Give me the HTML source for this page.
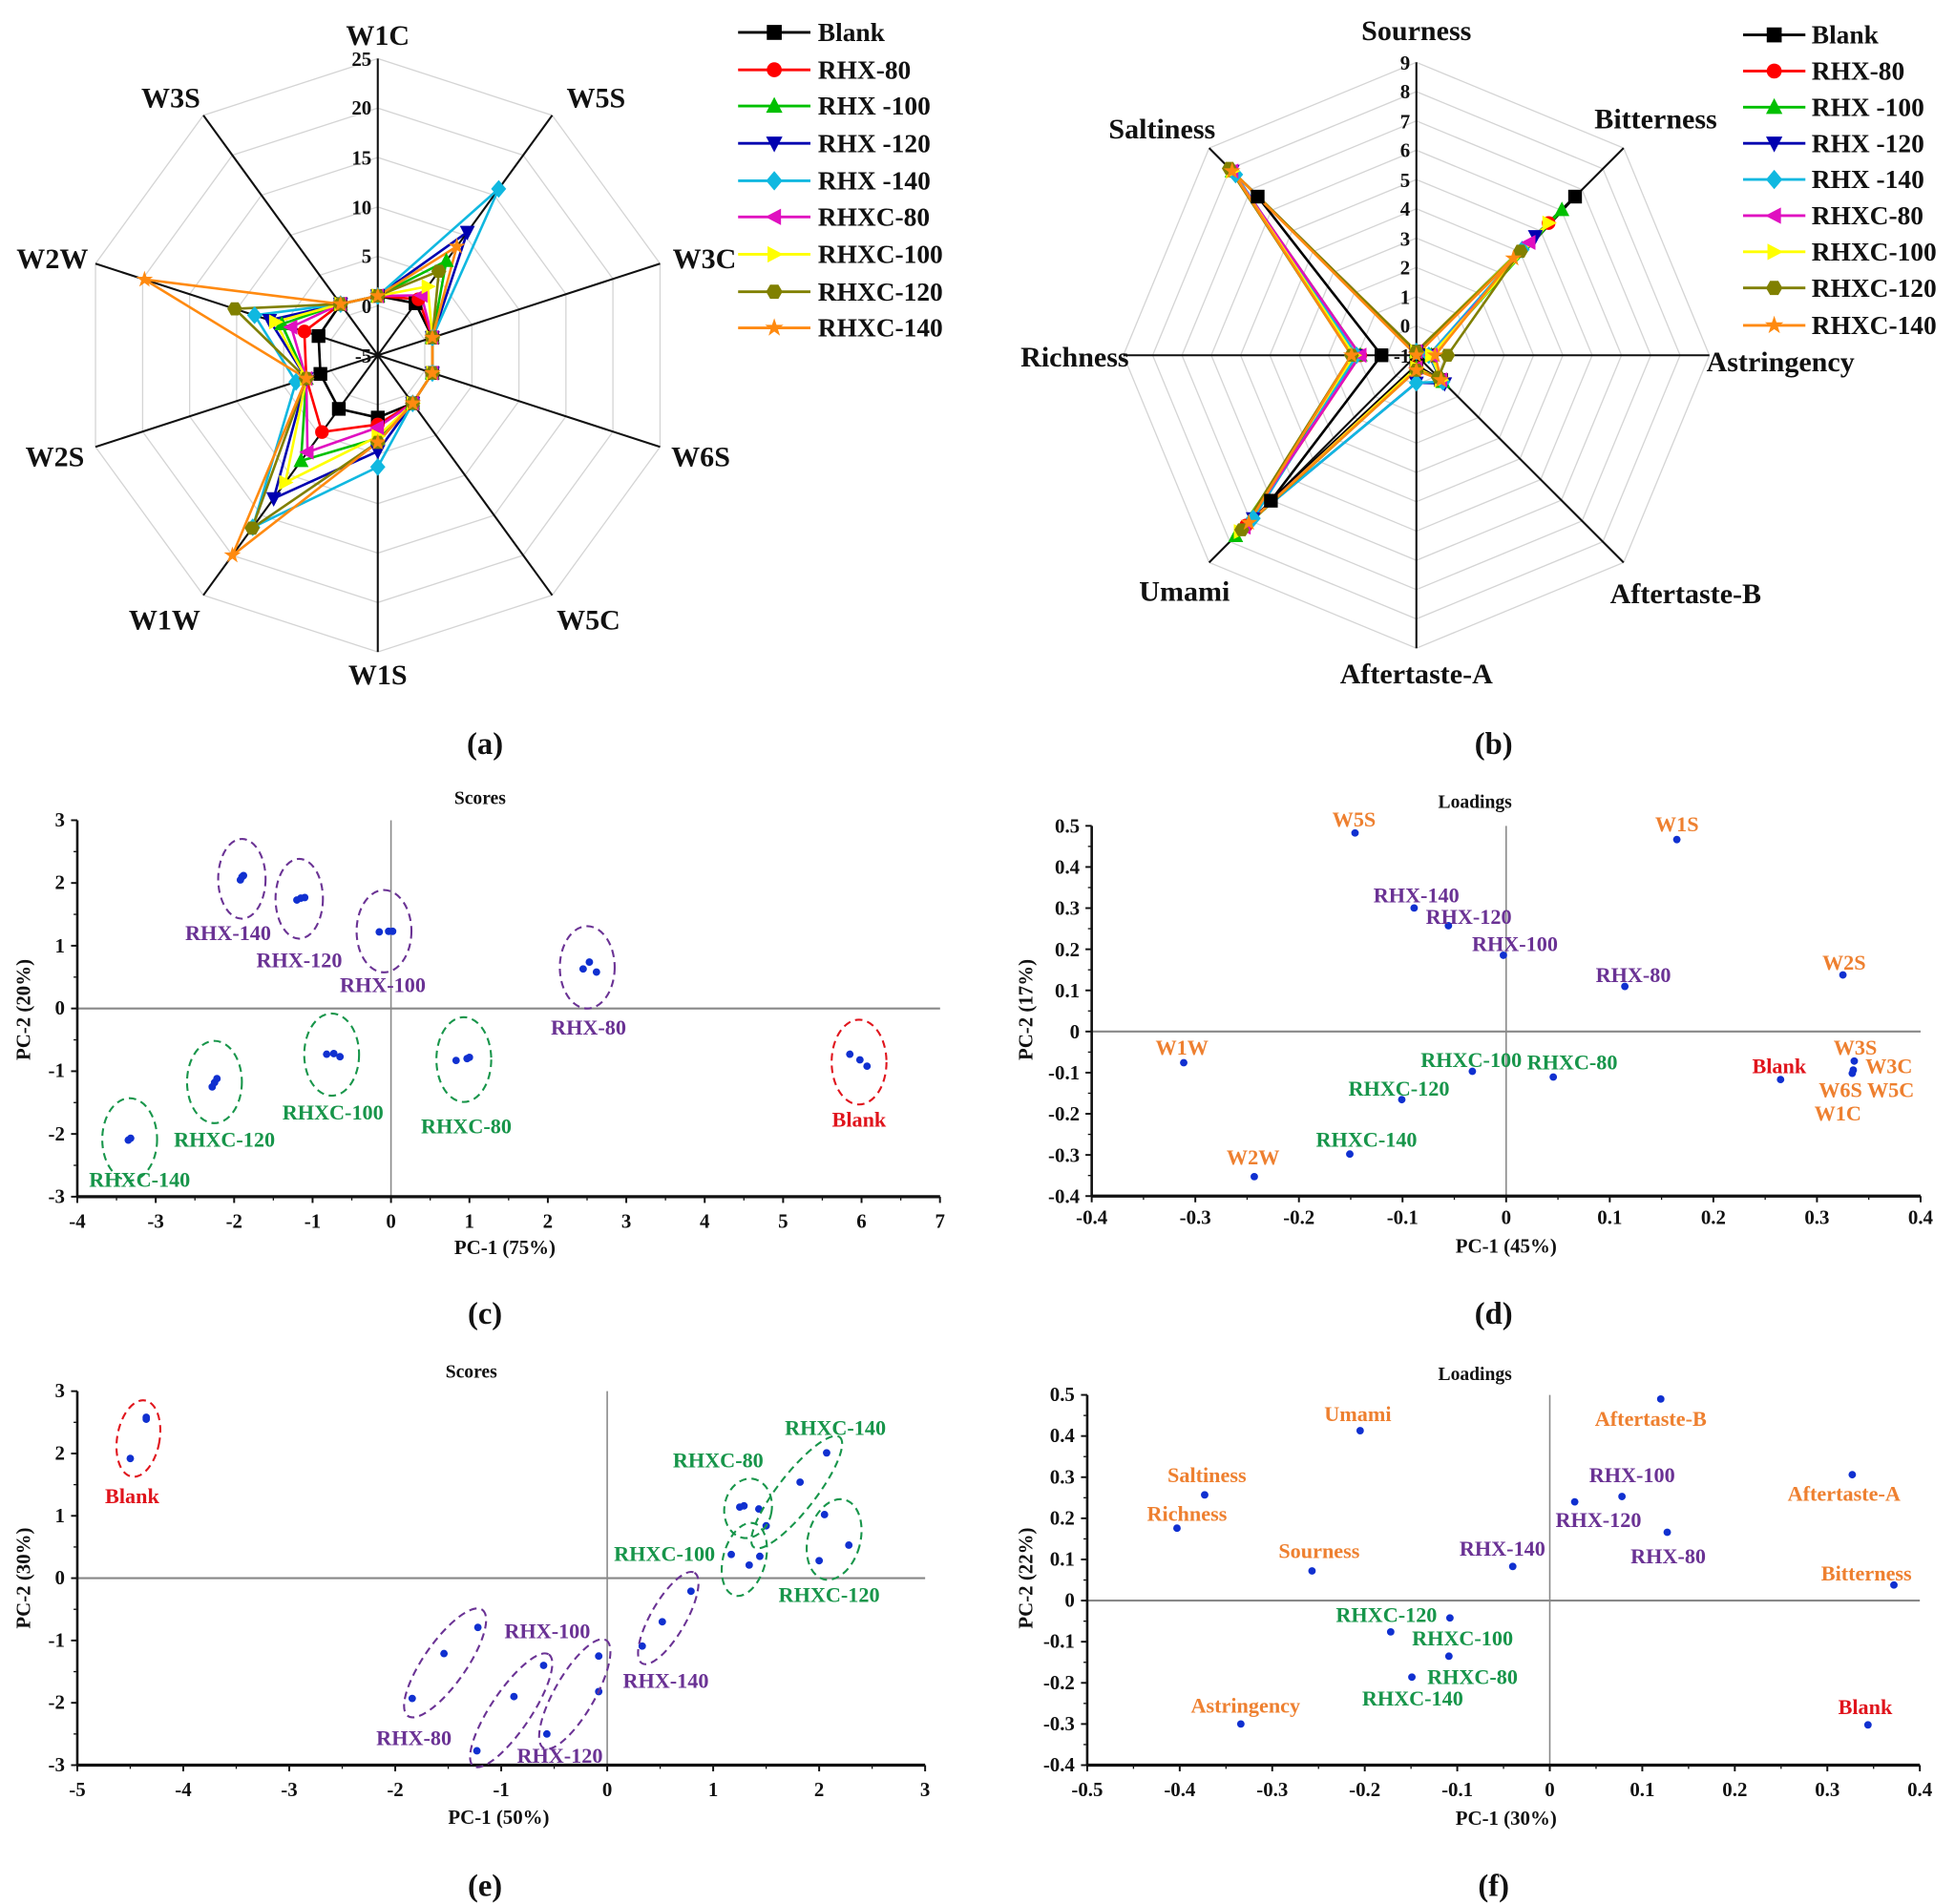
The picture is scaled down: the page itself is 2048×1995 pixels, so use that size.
<!DOCTYPE html>
<html><head><meta charset="utf-8"><style>
html,body{margin:0;padding:0;background:#fff}
svg{display:block}
text{font-family:"Liberation Serif",serif;font-weight:bold}
.ax{font-size:23px;fill:#111}
.lg{font-size:21px;fill:#111}
.tk{font-size:16px;fill:#111}
.pl{font-size:25px;fill:#111}
.tt{font-size:15px;fill:#111}
.at{font-size:16px;fill:#111}
.pu{font-size:17px;fill:#6a3294}
.gr{font-size:17px;fill:#17954a}
.or{font-size:17px;fill:#ee8030}
.rd{font-size:17px;fill:#e0141c}
</style></head><body>
<svg id="s" xmlns="http://www.w3.org/2000/svg" width="2048" height="1995" viewBox="0 0 1568 1527.4" preserveAspectRatio="none">
<g id="geo"></g>
<!-- Radar a labels -->
<text class="ax" x="303" y="36" text-anchor="middle">W1C</text>
<text class="ax" x="478" y="86" text-anchor="middle">W5S</text>
<text class="ax" x="565" y="215" text-anchor="middle">W3C</text>
<text class="ax" x="562" y="374" text-anchor="middle">W6S</text>
<text class="ax" x="472" y="505" text-anchor="middle">W5C</text>
<text class="ax" x="303" y="549" text-anchor="middle">W1S</text>
<text class="ax" x="132" y="505" text-anchor="middle">W1W</text>
<text class="ax" x="44" y="374" text-anchor="middle">W2S</text>
<text class="ax" x="42" y="215" text-anchor="middle">W2W</text>
<text class="ax" x="137" y="86" text-anchor="middle">W3S</text>
<g class="tk" text-anchor="end">
<text x="298" y="53">25</text><text x="298" y="92">20</text><text x="298" y="132">15</text><text x="298" y="172">10</text><text x="298" y="211">5</text><text x="298" y="251">0</text><text x="298" y="291">-5</text>
</g>
<g class="lg">
<text x="656" y="33">Blank</text><text x="656" y="63">RHX-80</text><text x="656" y="92">RHX -100</text><text x="656" y="122">RHX -120</text><text x="656" y="152">RHX -140</text><text x="656" y="181">RHXC-80</text><text x="656" y="211">RHXC-100</text><text x="656" y="241">RHXC-120</text><text x="656" y="270">RHXC-140</text>
</g>
<!-- Radar b labels -->
<text class="ax" x="1136" y="32" text-anchor="middle">Sourness</text>
<text class="ax" x="1328" y="103" text-anchor="middle">Bitterness</text>
<text class="ax" x="1428" y="298" text-anchor="middle">Astringency</text>
<text class="ax" x="1352" y="484" text-anchor="middle">Aftertaste-B</text>
<text class="ax" x="1136" y="548" text-anchor="middle">Aftertaste-A</text>
<text class="ax" x="950" y="482" text-anchor="middle">Umami</text>
<text class="ax" x="862" y="294" text-anchor="middle">Richness</text>
<text class="ax" x="932" y="111" text-anchor="middle">Saltiness</text>
<g class="tk" text-anchor="end">
<text x="1131" y="56">9</text><text x="1131" y="79">8</text><text x="1131" y="103">7</text><text x="1131" y="126">6</text><text x="1131" y="150">5</text><text x="1131" y="173">4</text><text x="1131" y="197">3</text><text x="1131" y="220">2</text><text x="1131" y="244">1</text><text x="1131" y="267">0</text><text x="1131" y="291">-1</text>
</g>
<g class="lg">
<text x="1453" y="35">Blank</text><text x="1453" y="64">RHX-80</text><text x="1453" y="93">RHX -100</text><text x="1453" y="122">RHX -120</text><text x="1453" y="151">RHX -140</text><text x="1453" y="180">RHXC-80</text><text x="1453" y="209">RHXC-100</text><text x="1453" y="238">RHXC-120</text><text x="1453" y="268">RHXC-140</text>
</g>
<text class="pl" x="389" y="605" text-anchor="middle">(a)</text>
<text class="pl" x="1198" y="605" text-anchor="middle">(b)</text>
<text class="pl" x="389" y="1062" text-anchor="middle">(c)</text>
<text class="pl" x="1198" y="1062" text-anchor="middle">(d)</text>
<text class="pl" x="389" y="1521" text-anchor="middle">(e)</text>
<text class="pl" x="1198" y="1521" text-anchor="middle">(f)</text>

<!-- (c) -->
<text class="tt" x="385" y="645" text-anchor="middle">Scores</text>
<text class="at" x="405" y="1006" text-anchor="middle">PC-1 (75%)</text>
<text class="at" transform="translate(24,810) rotate(-90)" text-anchor="middle">PC-2 (20%)</text>
<g class="tk" text-anchor="middle">
<text x="62" y="985">-4</text><text x="124.9" y="985">-3</text><text x="187.8" y="985">-2</text><text x="250.7" y="985">-1</text><text x="313.6" y="985">0</text><text x="376.5" y="985">1</text><text x="439.4" y="985">2</text><text x="502.3" y="985">3</text><text x="565.2" y="985">4</text><text x="628.1" y="985">5</text><text x="691" y="985">6</text><text x="753.9" y="985">7</text>
</g>
<g class="tk" text-anchor="end">
<text x="52" y="663">3</text><text x="52" y="713">2</text><text x="52" y="764">1</text><text x="52" y="814">0</text><text x="52" y="864">-1</text><text x="52" y="915">-2</text><text x="52" y="965">-3</text>
</g>
<text class="pu" x="183" y="754" text-anchor="middle">RHX-140</text>
<text class="pu" x="240" y="776" text-anchor="middle">RHX-120</text>
<text class="pu" x="307" y="796" text-anchor="middle">RHX-100</text>
<text class="pu" x="472" y="830" text-anchor="middle">RHX-80</text>
<text class="gr" x="267" y="898" text-anchor="middle">RHXC-100</text>
<text class="gr" x="180" y="920" text-anchor="middle">RHXC-120</text>
<text class="gr" x="112" y="952" text-anchor="middle">RHXC-140</text>
<text class="gr" x="374" y="909" text-anchor="middle">RHXC-80</text>
<text class="rd" x="689" y="904" text-anchor="middle">Blank</text>

<!-- (d) -->
<text class="tt" x="1183" y="648" text-anchor="middle">Loadings</text>
<text class="at" x="1208" y="1005" text-anchor="middle">PC-1 (45%)</text>
<text class="at" transform="translate(828,810) rotate(-90)" text-anchor="middle">PC-2 (17%)</text>
<g class="tk" text-anchor="middle">
<text x="875.6" y="982">-0.4</text><text x="958.7" y="982">-0.3</text><text x="1041.8" y="982">-0.2</text><text x="1124.9" y="982">-0.1</text><text x="1208" y="982">0</text><text x="1291.1" y="982">0.1</text><text x="1374.2" y="982">0.2</text><text x="1457.3" y="982">0.3</text><text x="1540.4" y="982">0.4</text>
</g>
<g class="tk" text-anchor="end">
<text x="866" y="668">0.5</text><text x="866" y="701">0.4</text><text x="866" y="734">0.3</text><text x="866" y="767">0.2</text><text x="866" y="800">0.1</text><text x="866" y="833">0</text><text x="866" y="866">-0.1</text><text x="866" y="899">-0.2</text><text x="866" y="932">-0.3</text><text x="866" y="965">-0.4</text>
</g>
<text class="or" x="1086" y="663" text-anchor="middle">W5S</text>
<text class="or" x="1345" y="667" text-anchor="middle">W1S</text>
<text class="pu" x="1136" y="724" text-anchor="middle">RHX-140</text>
<text class="pu" x="1178" y="741" text-anchor="middle">RHX-120</text>
<text class="pu" x="1215" y="763" text-anchor="middle">RHX-100</text>
<text class="pu" x="1310" y="788" text-anchor="middle">RHX-80</text>
<text class="or" x="1479" y="778" text-anchor="middle">W2S</text>
<text class="or" x="948" y="846" text-anchor="middle">W1W</text>
<text class="gr" x="1180" y="856" text-anchor="middle">RHXC-100</text>
<text class="gr" x="1261" y="858" text-anchor="middle">RHXC-80</text>
<text class="gr" x="1122" y="879" text-anchor="middle">RHXC-120</text>
<text class="gr" x="1096" y="920" text-anchor="middle">RHXC-140</text>
<text class="or" x="1005" y="934" text-anchor="middle">W2W</text>
<text class="rd" x="1427" y="861" text-anchor="middle">Blank</text>
<text class="or" x="1488" y="846" text-anchor="middle">W3S</text>
<text class="or" x="1515" y="861" text-anchor="middle">W3C</text>
<text class="or" x="1497" y="880" text-anchor="middle">W6S W5C</text>
<text class="or" x="1474" y="899" text-anchor="middle">W1C</text>

<!-- (e) -->
<text class="tt" x="378" y="1105" text-anchor="middle">Scores</text>
<text class="at" x="400" y="1463" text-anchor="middle">PC-1 (50%)</text>
<text class="at" transform="translate(24,1266) rotate(-90)" text-anchor="middle">PC-2 (30%)</text>
<g class="tk" text-anchor="middle">
<text x="62" y="1441">-5</text><text x="147" y="1441">-4</text><text x="232" y="1441">-3</text><text x="317" y="1441">-2</text><text x="402" y="1441">-1</text><text x="487" y="1441">0</text><text x="572" y="1441">1</text><text x="657" y="1441">2</text><text x="742" y="1441">3</text>
</g>
<g class="tk" text-anchor="end">
<text x="52" y="1121">3</text><text x="52" y="1171">2</text><text x="52" y="1221">1</text><text x="52" y="1271">0</text><text x="52" y="1321">-1</text><text x="52" y="1371">-2</text><text x="52" y="1421">-3</text>
</g>
<text class="rd" x="106" y="1206" text-anchor="middle">Blank</text>
<text class="gr" x="670" y="1151" text-anchor="middle">RHXC-140</text>
<text class="gr" x="576" y="1177" text-anchor="middle">RHXC-80</text>
<text class="gr" x="533" y="1252" text-anchor="middle">RHXC-100</text>
<text class="gr" x="665" y="1285" text-anchor="middle">RHXC-120</text>
<text class="pu" x="439" y="1314" text-anchor="middle">RHX-100</text>
<text class="pu" x="534" y="1354" text-anchor="middle">RHX-140</text>
<text class="pu" x="332" y="1400" text-anchor="middle">RHX-80</text>
<text class="pu" x="449" y="1414" text-anchor="middle">RHX-120</text>

<!-- (f) -->
<text class="tt" x="1183" y="1107" text-anchor="middle">Loadings</text>
<text class="at" x="1208" y="1464" text-anchor="middle">PC-1 (30%)</text>
<text class="at" transform="translate(828,1266) rotate(-90)" text-anchor="middle">PC-2 (22%)</text>
<g class="tk" text-anchor="middle">
<text x="872" y="1441">-0.5</text><text x="946.2" y="1441">-0.4</text><text x="1020.4" y="1441">-0.3</text><text x="1094.6" y="1441">-0.2</text><text x="1168.8" y="1441">-0.1</text><text x="1243" y="1441">0</text><text x="1317.2" y="1441">0.1</text><text x="1391.4" y="1441">0.2</text><text x="1465.6" y="1441">0.3</text><text x="1539.8" y="1441">0.4</text>
</g>
<g class="tk" text-anchor="end">
<text x="862" y="1124">0.5</text><text x="862" y="1157">0.4</text><text x="862" y="1190">0.3</text><text x="862" y="1223">0.2</text><text x="862" y="1256">0.1</text><text x="862" y="1289">0</text><text x="862" y="1322">-0.1</text><text x="862" y="1355">-0.2</text><text x="862" y="1388">-0.3</text><text x="862" y="1421">-0.4</text>
</g>
<text class="or" x="1089" y="1140" text-anchor="middle">Umami</text>
<text class="or" x="1324" y="1144" text-anchor="middle">Aftertaste-B</text>
<text class="or" x="968" y="1189" text-anchor="middle">Saltiness</text>
<text class="or" x="952" y="1220" text-anchor="middle">Richness</text>
<text class="or" x="1058" y="1250" text-anchor="middle">Sourness</text>
<text class="pu" x="1309" y="1189" text-anchor="middle">RHX-100</text>
<text class="pu" x="1282" y="1225" text-anchor="middle">RHX-120</text>
<text class="pu" x="1205" y="1248" text-anchor="middle">RHX-140</text>
<text class="pu" x="1338" y="1254" text-anchor="middle">RHX-80</text>
<text class="or" x="1479" y="1204" text-anchor="middle">Aftertaste-A</text>
<text class="or" x="1497" y="1268" text-anchor="middle">Bitterness</text>
<text class="gr" x="1112" y="1301" text-anchor="middle">RHXC-120</text>
<text class="gr" x="1173" y="1320" text-anchor="middle">RHXC-100</text>
<text class="gr" x="1181" y="1351" text-anchor="middle">RHXC-80</text>
<text class="gr" x="1133" y="1368" text-anchor="middle">RHXC-140</text>
<text class="or" x="999" y="1374" text-anchor="middle">Astringency</text>
<text class="rd" x="1496" y="1375" text-anchor="middle">Blank</text>
</svg>
<script>
(function(){
var G=document.getElementById("geo"),h=[];
function P(a){h.push(a);}
function ln(x1,y1,x2,y2,c,w,ex){P('<line x1="'+x1+'" y1="'+y1+'" x2="'+x2+'" y2="'+y2+'" stroke="'+c+'" stroke-width="'+w+'" '+(ex||'')+'/>');}
var cols=["#000","#ff0000","#00c000","#0000b0","#10b8e0","#e010c0","#ffff00","#808000","#ff8a10"];
var shapes=["sq","ci","tu","td","di","tl","tr","hx","st"];
function mk(t,x,y,c,s){
 if(t=="sq"){P('<rect x="'+(x-s)+'" y="'+(y-s)+'" width="'+2*s+'" height="'+2*s+'" fill="'+c+'"/>');return;}
 if(t=="ci"){P('<circle cx="'+x+'" cy="'+y+'" r="'+s+'" fill="'+c+'"/>');return;}
 function poly(a){P('<polygon points="'+a.map(function(q){return (x+q[0]*s).toFixed(1)+','+(y+q[1]*s).toFixed(1)}).join(' ')+'" fill="'+c+'"/>');}
 if(t=="tu")poly([[0,-1.2],[1.1,0.9],[-1.1,0.9]]);
 if(t=="td")poly([[0,1.2],[1.1,-0.9],[-1.1,-0.9]]);
 if(t=="tl")poly([[-1.2,0],[0.9,1.1],[0.9,-1.1]]);
 if(t=="tr")poly([[1.2,0],[-0.9,1.1],[-0.9,-1.1]]);
 if(t=="di")poly([[0,-1.3],[1.1,0],[0,1.3],[-1.1,0]]);
 if(t=="hx"){var a=[];for(var i=0;i<6;i++){var g=Math.PI/3*i;a.push([Math.cos(g)*1.1,Math.sin(g)*1.1]);}poly(a);}
 if(t=="st"){var a=[];for(var i=0;i<10;i++){var g=-Math.PI/2+Math.PI/5*i,r=i%2?0.5:1.3;a.push([Math.cos(g)*r,Math.sin(g)*r]);}poly(a);}
}
var ca=[303,285],Ra=238,n=10;
for(var k=1;k<=6;k++){var r=Ra*k/6,a=[];for(var i=0;i<n;i++){var t=i*2*Math.PI/n;a.push((ca[0]+r*Math.sin(t)).toFixed(1)+','+(ca[1]-r*Math.cos(t)).toFixed(1));}P('<polygon points="'+a.join(' ')+'" fill="none" stroke="#d4d4d4" stroke-width="1"/>');}
for(var i=0;i<n;i++){var t=i*2*Math.PI/n;ln(ca[0],ca[1],(ca[0]+Ra*Math.sin(t)).toFixed(1),(ca[1]-Ra*Math.cos(t)).toFixed(1),"#111",1.6);}
var A=[[1,1.5,0.8,0.8,1,1.3,1.7,1.1,1.3,1.4],[1,2,0.8,0.8,1,2,4.6,2.6,2.8,1.4],[1,6.8,0.8,0.8,1,3.4,8.2,2.6,5.2,1.4],[1,10.4,0.8,0.8,1,4.7,12.9,2.6,6.5,1.4],[1,15.8,0.8,0.8,1,6.3,16.5,3.7,8.1,1.4],[1,2.5,0.8,0.8,1,2.3,7.1,2.6,4.2,1.4],[1,3.6,0.8,0.8,1,3.2,10.9,2.6,5.9,1.4],[1,5.5,0.8,0.8,1,3.8,16.6,2.6,10.2,1.4],[1,8.6,0.8,0.8,1,3.8,20,2.6,19.8,1.4]];
function radar(c,vals,toR,nax){var pts=[];for(var i=0;i<nax;i++){var t=i*2*Math.PI/nax,r=toR(vals[i]);pts.push([c[0]+r*Math.sin(t),c[1]-r*Math.cos(t)]);}return pts;}
var allA=A.map(function(v){return radar(ca,v,function(x){return (x+5)*Ra/30;},10);});
allA.forEach(function(p,s){P('<polygon points="'+p.map(function(q){return q[0].toFixed(1)+','+q[1].toFixed(1)}).join(' ')+'" fill="none" stroke="'+cols[s]+'" stroke-width="2"/>');});
allA.forEach(function(p,s){p.forEach(function(q){mk(shapes[s],q[0],q[1],cols[s],5.5);});});
var cb=[1136,285],Rb=235,nb=8;
for(var k=1;k<=10;k++){var r=Rb*k/10,a=[];for(var i=0;i<nb;i++){var t=i*2*Math.PI/nb;a.push((cb[0]+r*Math.sin(t)).toFixed(1)+','+(cb[1]-r*Math.cos(t)).toFixed(1));}P('<polygon points="'+a.join(' ')+'" fill="none" stroke="#d4d4d4" stroke-width="1"/>');}
for(var i=0;i<nb;i++){var t=i*2*Math.PI/nb;ln(cb[0],cb[1],(cb[0]+Rb*Math.sin(t)).toFixed(1),(cb[1]-Rb*Math.cos(t)).toFixed(1),"#111",1.6);}
var B=[[3,180,10,28,8,165,28,180],[3,150,12,28,10,193,45,209],[3,165,12,30,10,205,45,209],[3,135,10,32,22,185,48,209],[3,120,10,30,22,185,48,205],[3,128,12,28,10,195,45,209],[3,150,12,28,10,200,50,209],[3,118,25,25,12,198,52,212],[0,110,15,28,12,190,52,209]];
var allB=B.map(function(v){return radar(cb,v,function(x){return x;},8);});
allB.forEach(function(p,s){P('<polygon points="'+p.map(function(q){return q[0].toFixed(1)+','+q[1].toFixed(1)}).join(' ')+'" fill="none" stroke="'+cols[s]+'" stroke-width="2"/>');});
allB.forEach(function(p,s){p.forEach(function(q){mk(shapes[s],q[0],q[1],cols[s],5.5);});});
function legend(x0,x1,xm,ys){ys.forEach(function(y,s){ln(x0,y,x1,y,cols[s],2.2);mk(shapes[s],xm,y,cols[s],6);});}
legend(592,650,621,[26,56,85,115,145,174,204,234,263]);
legend(1398,1448,1423,[28,57,86,115,144,173,202,231,261]);
function axes(xs,yb,ys,x0,xr,zx,zy,ytop){
 ln(zx,ytop,zx,yb,"#888",1.2);ln(x0,zy,xr,zy,"#888",1.6);
 ln(x0,yb,xr,yb,"#111",2.5);ln(x0,ytop,x0,yb,"#111",2);
 xs.forEach(function(x){ln(x,yb,x,yb+5,"#111",1.5);});
 ys.forEach(function(y){ln(x0-5,y,x0,y,"#111",1.5);});
 for(var i=0;i<xs.length-1;i++){var m=(xs[i]+xs[i+1])/2;ln(m,yb,m,yb+3,"#111",1);}
 for(var i=0;i<ys.length-1;i++){var m=(ys[i]+ys[i+1])/2;ln(x0-3,m,x0,m,"#111",1);}
}
function rng(a,b,n){var r=[];for(var i=0;i<n;i++)r.push(a+(b-a)*i/(n-1));return r;}
axes(rng(62,753.9,12),960,rng(658,960,7),62,754,313.6,809,658);
axes(rng(875.6,1540.4,9),959.5,rng(662.5,959.5,10),875.6,1540.4,1208,827.5,662.5);
axes(rng(62,742,9),1416,rng(1116,1416,7),62,742,487,1266,1116);
axes(rng(872,1539.8,10),1416,rng(1119,1416,10),872,1539.8,1243,1284,1119);
function dots(a){a.forEach(function(q){P('<circle cx="'+q[0]+'" cy="'+q[1]+'" r="3" fill="#1030d0"/>');});}
function el(cx,cy,rx,ry,rot,c){P('<ellipse cx="'+cx+'" cy="'+cy+'" rx="'+rx+'" ry="'+ry+'" transform="rotate('+rot+' '+cx+' '+cy+')" fill="none" stroke="'+c+'" stroke-width="1.6" stroke-dasharray="6,4"/>');}
var PU="#6a3294",GR="#17954a",RD="#e0141c";
dots([[194.1,703.4],[192.8,705.9],[195.3,702.4],[238.1,722],[241.3,720.5],[244.4,720],[304.2,747.6],[311.7,747.1],[314.9,747.1],[467.7,777.3],[472.7,771.8],[478.4,779.8],[681.6,845.7],[689.7,850.2],[695.4,855.3],[365.8,850.7],[374.6,849.2],[376.5,848.2],[262,845.7],[267.7,845.2],[272.7,847.7],[170.2,871.9],[172.1,868.4],[174,865.3],[102.9,914.6],[104.8,913.1]]);
el(194,705,19,32,0,PU);el(240,721,19,32,0,PU);el(308,747,22,33,0,PU);el(471,776,22,33,0,PU);el(689,852,22,34,0,RD);
el(372,850,22,34,0,GR);el(266,846,22,33,0,GR);el(172,868,22,33,0,GR);el(104,914,22,33,0,GR);
dots([[1086.8,668.2],[1344.9,673.5],[1134.2,728.4],[1161.7,742.6],[1205.8,766.3],[1303.2,791.3],[1478.1,782.1],[949.4,852.5],[1180.9,859.4],[1245.8,864],[1124.3,882.1],[1082.6,925.8],[1006,943.9],[1428.1,866],[1487.2,851.2],[1486.4,858.4],[1485.6,861]]);
dots([[117.3,1137],[117.3,1138.5],[104.5,1170],[663,1165.5],[641.7,1189],[614.5,1224],[593.3,1209],[596.7,1208],[608.6,1210.5],[661.3,1215],[680.8,1239.5],[657,1252],[586.5,1247],[609.4,1248.5],[600.9,1255.5],[554.2,1276.5],[531.2,1301],[515.1,1320.5],[383.3,1305.5],[356.1,1326.5],[330.6,1362.5],[436,1336],[412.2,1361],[382.5,1404.5],[480.2,1328.5],[480.2,1357],[438.6,1391]]);
el(111,1154,17,31,10,RD);el(639,1197,56,15,-52,GR);el(600,1210,19,24,10,GR);el(669,1235,21,33,15,GR);el(597,1251,17,30,15,GR);
el(536,1298,42,14,-60,PU);el(357,1334,52,17,-55,PU);el(410,1372,54,16,-56,PU);el(461,1359,50,16,-60,PU);
dots([[1090.9,1147.7],[1332,1122.3],[966.2,1199.2],[944,1225.9],[1052.3,1260.2],[1213.3,1256.6],[1263,1204.8],[1300.9,1200.5],[1337.2,1229.2],[1485.6,1183],[1519,1271.5],[1162.9,1297.9],[1115.4,1309.1],[1162.1,1328.6],[1132.4,1345.4],[995.2,1383],[1498.2,1383.7]]);
G.innerHTML=h.join("");
})();
</script>
</body></html>
